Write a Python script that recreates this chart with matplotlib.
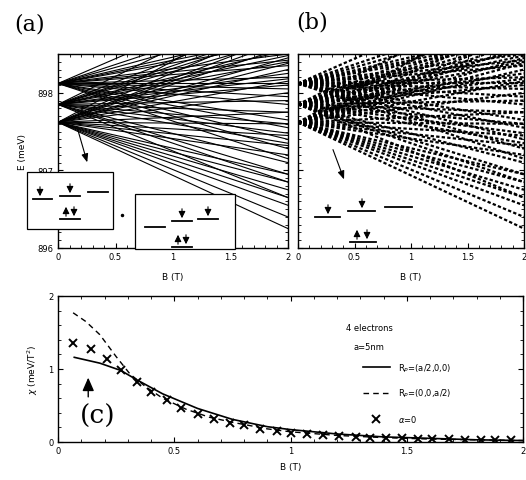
import matplotlib
matplotlib.use("Agg")
import matplotlib.pyplot as plt
from matplotlib.patches import Rectangle

# ---- data ----
# (a)/(b): energy levels, straight lines from E at B=0 to E at B=2 T
ends_898_12 = [899.4, 899.1, 898.95, 898.8, 898.72, 898.65, 898.5, 898.42, 898.35, 898.2, 898.12,
               898.05, 897.95, 897.85, 897.65, 897.55, 897.4, 897.28, 897.15]
ends_897_85 = [899.3, 899.0, 898.85, 898.78, 898.7, 898.55, 898.48, 898.4, 898.25, 898.18, 898.1,
               897.9, 897.75, 897.6, 897.48, 897.35, 897.1, 896.95, 896.85, 896.65]
ends_897_62 = [899.2, 898.9, 898.75, 898.68, 898.6, 898.45, 898.38, 898.3, 898.15, 898.0, 897.75,
               897.6, 897.45, 897.32, 897.2, 896.95, 896.85, 896.75, 896.65, 896.55, 896.4, 896.25]
start_E = [898.12] * len(ends_898_12) + [897.85] * len(ends_897_85) + [897.62] * len(ends_897_62)
end_E = ends_898_12 + ends_897_85 + ends_897_62
B_ends = [0.0, 2.0]

# (c): susceptibility
B_solid = [0.07, 0.18, 0.27, 0.34, 0.45, 0.6, 0.75, 0.9, 1.0, 1.2, 1.4, 1.6, 1.8, 2.0]
chi_solid = [1.16, 1.08, 0.98, 0.85, 0.66, 0.46, 0.31, 0.21, 0.17, 0.11, 0.07, 0.05, 0.03, 0.02]
B_dash = [0.065, 0.12, 0.18, 0.25, 0.31, 0.38, 0.45, 0.55, 0.65, 0.75, 0.9, 1.0, 1.2, 1.4, 1.6, 1.8, 2.0]
chi_dash = [1.77, 1.65, 1.47, 1.17, 0.93, 0.75, 0.6, 0.45, 0.34, 0.27, 0.18, 0.14, 0.09, 0.06, 0.04, 0.03, 0.02]
B_x = [0.065, 0.14, 0.21, 0.27, 0.34, 0.40, 0.47, 0.53, 0.60, 0.67, 0.74, 0.80, 0.87, 0.94, 1.0,
       1.07, 1.14, 1.21, 1.28, 1.34, 1.41, 1.48, 1.55, 1.61, 1.68, 1.75, 1.82, 1.88, 1.95]
chi_x = [1.36, 1.27, 1.14, 0.98, 0.82, 0.68, 0.57, 0.46, 0.39, 0.31, 0.26, 0.23, 0.18, 0.15, 0.12,
         0.11, 0.10, 0.08, 0.07, 0.06, 0.05, 0.05, 0.04, 0.04, 0.04, 0.03, 0.03, 0.03, 0.03]

W, H = 526, 481
fig = plt.figure(figsize=(W / 100, H / 100), dpi=100)

def px_axes(l, t, r, b):
    return fig.add_axes([l / W, 1 - b / H, (r - l) / W, (b - t) / H])

def style(ax):
    ax.tick_params(which="both", direction="in", top=True, right=True, labelsize=6, pad=3)
    ax.tick_params(which="major", length=3.5, width=0.8)
    ax.tick_params(which="minor", length=2, width=0.6)
    for s in ax.spines.values():
        s.set_linewidth(1.0)

axa = px_axes(58, 55, 288, 249)
axb = px_axes(298, 55, 524, 249)
axc = px_axes(58, 297, 523, 443)

for e0, e2 in zip(start_E, end_E):
    axa.plot(B_ends, [e0, e2], color="black", lw=0.8)
    axb.plot(B_ends, [e0, e2], color="black", lw=1.6, ls=(0, (1.5, 1.0)))

for ax in (axa, axb):
    ax.set_xlim(0, 2)
    ax.set_ylim(896, 898.5)
    ax.set_xticks([0, 0.5, 1, 1.5, 2])
    ax.set_xticklabels(["0", "0.5", "1", "1.5", "2"])
    ax.set_xticks([i / 10 for i in range(21)], minor=True)
    ax.set_yticks([896, 897, 898])
    ax.set_yticks([896 + i / 10 for i in range(26)], minor=True)
    ax.set_xlabel("B (T)", fontsize=6.5, labelpad=8)
    style(ax)
axa.set_ylabel("E (meV)", fontsize=6.5, labelpad=8)
axb.set_yticklabels([])

axc.plot(B_solid, chi_solid, color="black", lw=1.2, label=r"R$_P$=(a/2,0,0)")
axc.plot(B_dash, chi_dash, color="black", lw=1.0, ls=(0, (4, 3)), label=r"R$_P$=(0,0,a/2)")
axc.plot(B_x, chi_x, ls="none", marker="x", ms=6, mew=1.4, color="black", label=r"$\alpha$=0")
axc.set_xlim(0, 2)
axc.set_ylim(0, 2)
axc.set_xticks([0, 0.5, 1, 1.5, 2])
axc.set_xticklabels(["0", "0.5", "1", "1.5", "2"])
axc.set_xticks([i / 10 for i in range(21)], minor=True)
axc.set_yticks([0, 1, 2])
axc.set_yticks([i / 5 for i in range(11)], minor=True)
axc.set_xlabel("B (T)", fontsize=6.5, labelpad=5)
axc.set_ylabel(r"$\chi$ (meV/T$^2$)", fontsize=6.5, labelpad=6)
style(axc)
axc.legend(loc="center left", bbox_to_anchor=(0.64, 0.34), frameon=False, fontsize=6,
           handlelength=3.2, labelspacing=1.6, handletextpad=1.0)
axc.text(0.62, 0.77, "4 electrons", transform=axc.transAxes, fontsize=6)
axc.text(0.635, 0.64, "a=5nm", transform=axc.transAxes, fontsize=6)
axc.annotate("", xy=(0.13, 0.92), xytext=(0.13, 0.58),
             arrowprops=dict(arrowstyle="-|>,head_width=0.35,head_length=0.8", color="black", lw=1.0))
axc.text(0.17, 0.36, "(c)", fontsize=19, family="DejaVu Serif", ha="center", va="center")

# overlay for panel labels and the level schematics (pixel coordinates)
ov = fig.add_axes([0, 0, 1, 1], zorder=10)
ov.set_xlim(0, W)
ov.set_ylim(H, 0)
ov.axis("off")
ov.patch.set_visible(False)

ov.text(30, 25, "(a)", fontsize=16, family="DejaVu Serif", ha="center", va="center")
ov.text(312, 22, "(b)", fontsize=16, family="DejaVu Serif", ha="center", va="center")

def level(x0, x1, y, arrows=()):
    ov.plot([x0, x1], [y, y], color="black", lw=1.3)
    for xa, d in arrows:
        if d == "down":
            ov.annotate("", xy=(xa, y), xytext=(xa, y - 15),
                        arrowprops=dict(arrowstyle="-|>,head_width=0.2,head_length=0.4", color="black", lw=0.8))
        else:
            ov.annotate("", xy=(xa, y - 15), xytext=(xa, y),
                        arrowprops=dict(arrowstyle="-|>,head_width=0.2,head_length=0.4", color="black", lw=0.8))

def pointer(x0, y0, x1, y1):
    ov.annotate("", xy=(x1, y1), xytext=(x0, y0),
                arrowprops=dict(arrowstyle="-|>,head_width=0.2,head_length=0.5", color="black", lw=0.8))

# panel (a) insets
ov.add_patch(Rectangle((27, 173), 86, 57, fc="white", ec="black", lw=0.9))
level(33, 52, 200, [(40, "down")])
level(60, 80, 197, [(70, "down")])
level(88, 108, 193)
level(60, 80, 220, [(66, "up"), (74, "down")])
ov.plot([122], [216], marker="o", ms=1.5, color="black")
ov.add_patch(Rectangle((135, 195), 100, 55, fc="white", ec="black", lw=0.9))
level(145, 165, 228)
level(172, 192, 222, [(182, "down")])
level(198, 218, 220, [(208, "down")])
level(172, 192, 248, [(178, "up"), (186, "down")])
pointer(77, 128, 88, 166)

# panel (b) inset
level(315, 340, 218, [(328, "down")])
level(348, 375, 212, [(362, "down")])
level(385, 412, 208)
level(350, 376, 243, [(357, "up"), (367, "down")])
pointer(332, 148, 345, 183)

fig.savefig("out.png", dpi=100)
